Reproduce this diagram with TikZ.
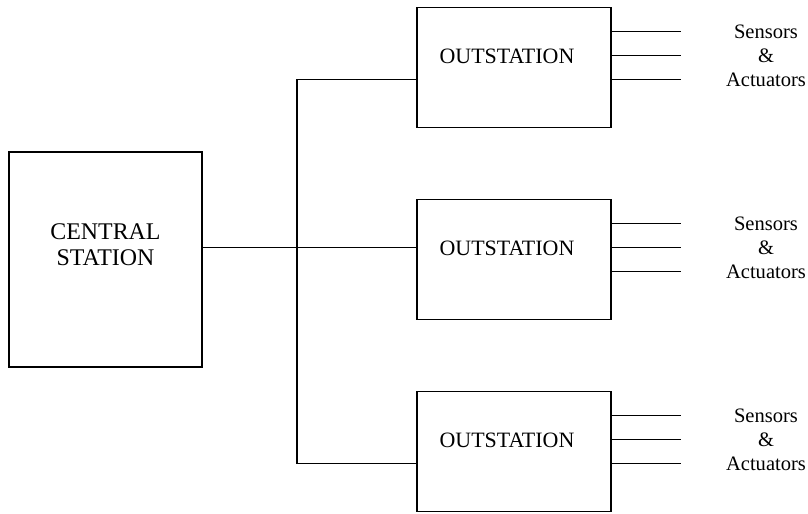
\documentclass[tikz,border=0pt]{standalone}
\usepackage{fontspec}
\setmainfont{Liberation Serif}
\usepackage{tikz}
\usetikzlibrary{positioning}
\usetikzlibrary{calc}

\tikzset{
    station/.style={draw, line width=1.2pt, outer sep=0pt, inner sep=0pt},
    outbox/.style={station, minimum width=4.85cm, minimum height=3cm},
    boxtext/.style={font=\fontsize{15.6}{17}\selectfont, align=center, inner sep=0pt},
    wire/.style={line width=1.2pt}
}

\begin{document}
\begin{tikzpicture}
    \useasboundingbox (0,0) rectangle (20.2,-12.85);

    \node [station, minimum width=4.825cm, minimum height=5.375cm] (cs) at (2.6375,-6.4875) {};
    \node [boxtext, font=\fontsize{17}{18.5}\selectfont] (cstext) at ([yshift=0.36cm]cs.center) {CENTRAL\\STATION};

    \node [outbox, right=5.375cm of cs] (os2) {};
    \node [outbox, above=1.8cm of os2] (os1) {};
    \node [outbox, below=1.8cm of os2] (os3) {};

    \node [boxtext] (ostext1) at ([xshift=-0.175cm, yshift=0.275cm]os1.center) {OUTSTATION};
    \node [boxtext] (ostext2) at ([xshift=-0.175cm, yshift=0.275cm]os2.center) {OUTSTATION};
    \node [boxtext] (ostext3) at ([xshift=-0.175cm, yshift=0.275cm]os3.center) {OUTSTATION};

    % line in points
    \coordinate (cout) at ([yshift=0.3cm]cs.east);
    \coordinate (in1) at ([yshift=-0.3cm]os1.west);
    \coordinate (in2) at ([yshift=0.3cm]os2.west);
    \coordinate (in3) at ([yshift=-0.3cm]os3.west);
    \coordinate (bus) at ([xshift=-3cm]in1);

    \draw [wire] (cout) -- (in2);
    \draw [wire] (in1) -- (bus) |- (in3);

    % sensors and actuators
    \foreach \o in {os1, os2, os3} {
        \foreach \y in {0.9, 0.3, -0.3} {
            \draw [wire] ([yshift=\y cm]\o.east) -- ++(1.75,0);
        }
        \node [boxtext, font=\fontsize{14.6}{15}\selectfont] (sa-\o) at ($(\o.east)+(3.875,0.3)$) {Sensors\\[0.6cm-15pt]\&\\[0.6cm-15pt]Actuators};
    }
\end{tikzpicture}
\end{document}
